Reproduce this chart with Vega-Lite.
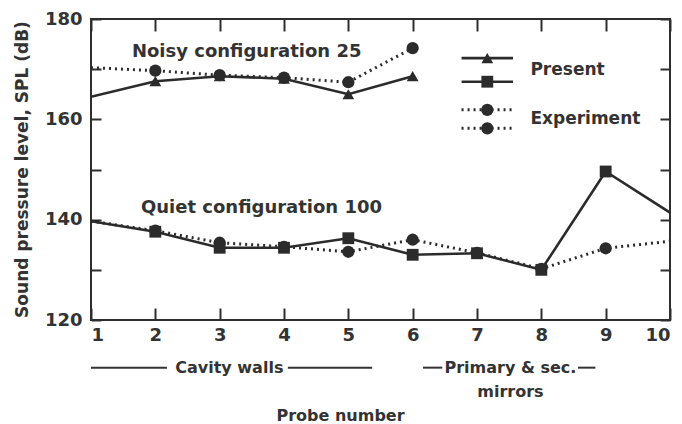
{
  "$schema": "https://vega.github.io/schema/vega-lite/v6.json",
  "width": 579,
  "height": 301,
  "autosize": "none",
  "padding": {"left": 91, "top": 19, "right": 12, "bottom": 104},
  "background": "white",
  "config": {
    "view": {"stroke": "#2e2e2e", "strokeWidth": 2},
    "font": "DejaVu Sans",
    "axis": {
      "grid": false,
      "domain": false,
      "labelFont": "DejaVu Sans",
      "labelFontWeight": "bold",
      "labelFontSize": 18,
      "labelColor": "#333",
      "titleFont": "DejaVu Sans",
      "titleFontWeight": "bold",
      "titleFontSize": 16,
      "titleColor": "#333",
      "tickColor": "#2e2e2e",
      "tickWidth": 2
    }
  },
  "datasets": {
    "spl": [
      {"probe": 1, "spl": 164.5, "config": "Noisy", "source": "Present"},
      {"probe": 2, "spl": 167.6, "config": "Noisy", "source": "Present"},
      {"probe": 3, "spl": 168.6, "config": "Noisy", "source": "Present"},
      {"probe": 4, "spl": 168.1, "config": "Noisy", "source": "Present"},
      {"probe": 5, "spl": 165.0, "config": "Noisy", "source": "Present"},
      {"probe": 6, "spl": 168.6, "config": "Noisy", "source": "Present"},
      {"probe": 1, "spl": 170.3, "config": "Noisy", "source": "Experiment"},
      {"probe": 2, "spl": 169.7, "config": "Noisy", "source": "Experiment"},
      {"probe": 3, "spl": 168.8, "config": "Noisy", "source": "Experiment"},
      {"probe": 4, "spl": 168.3, "config": "Noisy", "source": "Experiment"},
      {"probe": 5, "spl": 167.4, "config": "Noisy", "source": "Experiment"},
      {"probe": 6, "spl": 174.2, "config": "Noisy", "source": "Experiment"},
      {"probe": 1, "spl": 139.7, "config": "Quiet", "source": "Present"},
      {"probe": 2, "spl": 137.6, "config": "Quiet", "source": "Present"},
      {"probe": 3, "spl": 134.4, "config": "Quiet", "source": "Present"},
      {"probe": 4, "spl": 134.4, "config": "Quiet", "source": "Present"},
      {"probe": 5, "spl": 136.3, "config": "Quiet", "source": "Present"},
      {"probe": 6, "spl": 133.0, "config": "Quiet", "source": "Present"},
      {"probe": 7, "spl": 133.3, "config": "Quiet", "source": "Present"},
      {"probe": 8, "spl": 130.0, "config": "Quiet", "source": "Present"},
      {"probe": 9, "spl": 149.6, "config": "Quiet", "source": "Present"},
      {"probe": 10, "spl": 141.4, "config": "Quiet", "source": "Present"},
      {"probe": 1, "spl": 139.7, "config": "Quiet", "source": "Experiment"},
      {"probe": 2, "spl": 137.8, "config": "Quiet", "source": "Experiment"},
      {"probe": 3, "spl": 135.4, "config": "Quiet", "source": "Experiment"},
      {"probe": 4, "spl": 134.6, "config": "Quiet", "source": "Experiment"},
      {"probe": 5, "spl": 133.6, "config": "Quiet", "source": "Experiment"},
      {"probe": 6, "spl": 136.0, "config": "Quiet", "source": "Experiment"},
      {"probe": 7, "spl": 133.4, "config": "Quiet", "source": "Experiment"},
      {"probe": 8, "spl": 130.2, "config": "Quiet", "source": "Experiment"},
      {"probe": 9, "spl": 134.3, "config": "Quiet", "source": "Experiment"},
      {"probe": 10, "spl": 135.7, "config": "Quiet", "source": "Experiment"}
    ],
    "legendKeys": [
      {"from": 6.76, "to": 7.56, "at": 7.16, "spl": 172.2, "config": "Noisy", "source": "Present"},
      {"from": 6.76, "to": 7.56, "at": 7.16, "spl": 167.5, "config": "Quiet", "source": "Present"},
      {"from": 6.76, "to": 7.56, "at": 7.16, "spl": 161.9, "config": "Noisy", "source": "Experiment"},
      {"from": 6.76, "to": 7.56, "at": 7.16, "spl": 158.2, "config": "Quiet", "source": "Experiment"}
    ],
    "legendText": [
      {"label": "Present", "probe": 7.83, "spl": 169.8},
      {"label": "Experiment", "probe": 7.83, "spl": 160.0}
    ],
    "notes": [
      {"label": "Noisy configuration 25", "probe": 3.42, "spl": 173.5},
      {"label": "Quiet configuration 100", "probe": 3.65, "spl": 142.3}
    ],
    "groups": [
      {"label": "Cavity walls", "probe": 3.15, "spl": 110.5},
      {"label": "Primary & sec.", "probe": 7.52, "spl": 110.5},
      {"label": "mirrors", "probe": 7.52, "spl": 105.7}
    ],
    "groupLines": [
      {"from": 1.0, "to": 2.18, "spl": 110.5},
      {"from": 4.06, "to": 5.37, "spl": 110.5},
      {"from": 6.16, "to": 6.46, "spl": 110.5},
      {"from": 8.57, "to": 8.84, "spl": 110.5}
    ]
  },
  "layer": [
    {
      "data": {"name": "spl"},
      "transform": [{"filter": "datum.source == 'Present'"}],
      "mark": {"type": "line", "color": "#2b2b2b", "strokeWidth": 2.6, "clip": true},
      "encoding": {
        "x": {"field": "probe", "type": "quantitative", "scale": {"domain": [1, 10], "nice": false},
          "axis": {"orient": "bottom", "values": [1,2,3,4,5,6,7,8,9,10], "tickSize": -12, "labelPadding": 18,
            "title": "Probe number", "titleX": 249, "titleY": 95, "titleBaseline": "middle", "titleAlign": "center"}},
        "y": {"field": "spl", "type": "quantitative", "scale": {"domain": [120, 180], "nice": false, "zero": false},
          "axis": {"orient": "left", "values": [120,130,140,150,160,170,180], "tickSize": -10, "labelPadding": 19,
            "labelExpr": "datum.value % 20 == 0 ? datum.label : ''",
            "title": "Sound pressure level, SPL (dB)", "titleFontSize": 17, "titleX": -69, "titleY": 150,
            "titleBaseline": "middle", "titleAngle": -90, "titleAlign": "center"}},
        "detail": {"field": "config"}
      }
    },
    {
      "data": {"name": "spl"},
      "transform": [{"filter": "datum.source == 'Experiment'"}],
      "mark": {"type": "line", "color": "#2b2b2b", "strokeWidth": 3, "strokeDash": [2, 4], "clip": true},
      "encoding": {
        "x": {"field": "probe", "type": "quantitative",
          "axis": {"orient": "top", "values": [1,2,3,4,5,6,7,8,9,10], "tickSize": -12, "labels": false, "title": null}},
        "y": {"field": "spl", "type": "quantitative",
          "axis": {"orient": "right", "values": [120,130,140,150,160,170,180], "tickSize": -10, "labels": false, "title": null}},
        "detail": {"field": "config"}
      }
    },
    {
      "data": {"name": "spl"},
      "transform": [{"filter": "datum.source == 'Experiment' && datum.probe > 1 && datum.probe < 10"}],
      "mark": {"type": "point", "shape": "circle", "filled": true, "color": "#2b2b2b", "opacity": 1, "size": 150},
      "encoding": {
        "x": {"field": "probe", "type": "quantitative", "axis": null},
        "y": {"field": "spl", "type": "quantitative", "axis": null}
      }
    },
    {
      "data": {"name": "spl"},
      "transform": [{"filter": "datum.source == 'Present' && datum.probe > 1 && datum.probe < 10"}],
      "mark": {"type": "point", "filled": true, "color": "#2b2b2b", "opacity": 1, "size": 140},
      "encoding": {
        "x": {"field": "probe", "type": "quantitative", "axis": null},
        "y": {"field": "spl", "type": "quantitative", "axis": null},
        "shape": {"field": "config", "type": "nominal", "scale": {"domain": ["Noisy", "Quiet"], "range": ["triangle-up", "square"]}, "legend": null}
      }
    },
    {
      "data": {"name": "legendKeys"},
      "transform": [{"filter": "datum.source == 'Present'"}],
      "mark": {"type": "rule", "color": "#2b2b2b", "strokeWidth": 2.6},
      "encoding": {
        "x": {"field": "from", "type": "quantitative", "axis": null},
        "x2": {"field": "to"},
        "y": {"field": "spl", "type": "quantitative", "axis": null}
      }
    },
    {
      "data": {"name": "legendKeys"},
      "transform": [{"filter": "datum.source == 'Experiment'"}],
      "mark": {"type": "rule", "color": "#2b2b2b", "strokeWidth": 3, "strokeDash": [2, 4]},
      "encoding": {
        "x": {"field": "from", "type": "quantitative", "axis": null},
        "x2": {"field": "to"},
        "y": {"field": "spl", "type": "quantitative", "axis": null}
      }
    },
    {
      "data": {"name": "legendKeys"},
      "transform": [{"filter": "datum.source == 'Experiment'"}],
      "mark": {"type": "point", "shape": "circle", "filled": true, "color": "#2b2b2b", "opacity": 1, "size": 150},
      "encoding": {
        "x": {"field": "at", "type": "quantitative", "axis": null},
        "y": {"field": "spl", "type": "quantitative", "axis": null}
      }
    },
    {
      "data": {"name": "legendKeys"},
      "transform": [{"filter": "datum.source == 'Present'"}],
      "mark": {"type": "point", "filled": true, "color": "#2b2b2b", "opacity": 1, "size": 140},
      "encoding": {
        "x": {"field": "at", "type": "quantitative", "axis": null},
        "y": {"field": "spl", "type": "quantitative", "axis": null},
        "shape": {"field": "config", "type": "nominal", "scale": {"domain": ["Noisy", "Quiet"], "range": ["triangle-up", "square"]}, "legend": null}
      }
    },
    {
      "data": {"name": "legendText"},
      "mark": {"type": "text", "align": "left", "baseline": "middle", "font": "DejaVu Sans", "fontWeight": "bold", "fontSize": 17, "color": "#333"},
      "encoding": {
        "x": {"field": "probe", "type": "quantitative", "axis": null},
        "y": {"field": "spl", "type": "quantitative", "axis": null},
        "text": {"field": "label"}
      }
    },
    {
      "data": {"name": "notes"},
      "mark": {"type": "text", "align": "center", "baseline": "middle", "font": "DejaVu Sans", "fontWeight": "bold", "fontSize": 18, "color": "#333"},
      "encoding": {
        "x": {"field": "probe", "type": "quantitative", "axis": null},
        "y": {"field": "spl", "type": "quantitative", "axis": null},
        "text": {"field": "label"}
      }
    },
    {
      "data": {"name": "groups"},
      "mark": {"type": "text", "align": "center", "baseline": "middle", "font": "DejaVu Sans", "fontWeight": "bold", "fontSize": 16, "color": "#333"},
      "encoding": {
        "x": {"field": "probe", "type": "quantitative", "axis": null},
        "y": {"field": "spl", "type": "quantitative", "axis": null},
        "text": {"field": "label"}
      }
    },
    {
      "data": {"name": "groupLines"},
      "mark": {"type": "rule", "color": "#333", "strokeWidth": 2},
      "encoding": {
        "x": {"field": "from", "type": "quantitative", "axis": null},
        "x2": {"field": "to"},
        "y": {"field": "spl", "type": "quantitative", "axis": null}
      }
    }
  ],
  "resolve": {"scale": {"x": "shared", "y": "shared"}, "axis": {"x": "independent", "y": "independent"}}
}
